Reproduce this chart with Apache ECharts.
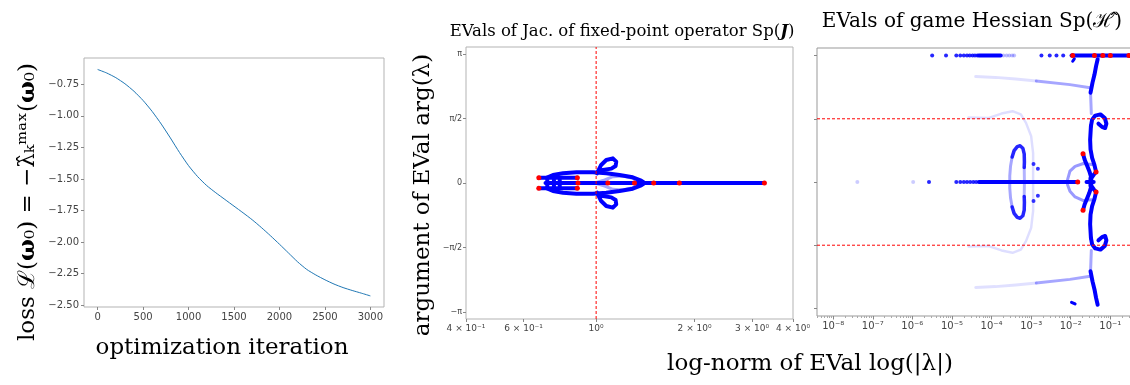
<!DOCTYPE html>
<html>
<head>
<meta charset="utf-8">
<script src="https://cdn.jsdelivr.net/npm/echarts@6/dist/echarts.min.js"></script>
<style>
html, body { margin: 0; padding: 0; background: #fff; }
#chart { width: 1130px; height: 385px; }
</style>
</head>
<body>
<div id="chart"></div>
<script>
// ---- left panel: loss during optimization ----
const lossIters = [0, 100, 200, 300, 400, 500, 600, 700, 800, 900, 1000, 1100, 1200, 1300, 1400, 1500, 1600, 1700, 1800, 1900, 2000, 2100, 2200, 2300, 2400, 2500, 2600, 2700, 2800, 2900, 3000];
const lossValues = [-0.632, -0.660, -0.697, -0.745, -0.805, -0.878, -0.965, -1.065, -1.175, -1.290, -1.395, -1.482, -1.553, -1.610, -1.663, -1.716, -1.769, -1.824, -1.885, -1.950, -2.018, -2.088, -2.158, -2.218, -2.262, -2.300, -2.334, -2.362, -2.385, -2.406, -2.428];
const lossXTicks = [0, 500, 1000, 1500, 2000, 2500, 3000];
const lossYTicks = [-2.5, -2.25, -2.0, -1.75, -1.5, -1.25, -1.0, -0.75];

// ---- middle panel: eigenvalues of the fixed-point Jacobian, [|lambda|, arg] ----
const jacXTicks = [0.4, 0.6, 1, 2, 3, 4];
const jacAxisLine = [[0.70, 0], [3.27, 0]];
const jacHTop = [[0.668, 0.13], [0.876, 0.13]];
const jacHBottom = [[0.668, -0.13], [0.876, -0.13]];
const jacHBar1 = [[0.709, 0.11], [0.709, -0.11]];
const jacHBar2 = [[0.743, 0.08], [0.743, -0.08]];
const jacHBar3 = [[0.774, 0.08], [0.774, -0.08]];
const jacLensTop = [[0.708, 0.13], [0.738, 0.195], [0.792, 0.236], [0.870, 0.262], [0.978, 0.262], [1.074, 0.236], [1.179, 0.195], [1.294, 0.138], [1.373, 0.057], [1.406, 0]];
const jacLensBottom = [[0.708, -0.13], [0.738, -0.195], [0.792, -0.236], [0.870, -0.262], [0.978, -0.262], [1.074, -0.236], [1.179, -0.195], [1.294, -0.138], [1.373, -0.057], [1.406, 0]];
const jacInnerTop = [[0.99, 0], [1.062, 0.073], [1.125, 0.155], [1.207, 0.171], [1.294, 0.114], [1.373, 0]];
const jacInnerBottom = [[0.99, 0], [1.062, -0.073], [1.125, -0.155], [1.207, -0.171], [1.294, -0.114], [1.373, 0]];
const jacLoopTop = [[1.006, 0.236], [1.036, 0.44], [1.074, 0.56], [1.125, 0.60], [1.152, 0.52], [1.147, 0.415], [1.113, 0.35], [1.049, 0.317], [1.020, 0.285]];
const jacLoopBottom = [[1.006, -0.236], [1.036, -0.44], [1.074, -0.56], [1.125, -0.60], [1.152, -0.52], [1.147, -0.415], [1.113, -0.35], [1.049, -0.317], [1.020, -0.285]];
const jacEnds = [[0.668, 0.13], [0.668, -0.13], [0.876, 0.13], [0.876, -0.13], [0.88, 0], [1.086, 0], [1.31, 0], [1.50, 0], [1.797, 0], [3.27, 0]];
const jacUnitNorm = 1;

// ---- right panel: eigenvalues of the game Hessian, [log10 |lambda|, arg] ----
const hessXTicks = [-8, -7, -6, -5, -4, -3, -2, -1];
const hessPiRowDots = [-5.50, -5.15, -4.89, -4.79, -4.70, -4.62, -4.55, -4.48, -4.42, -4.36, -2.74, -2.53, -2.36, -2.19];
const hessPiRowFaint = [-3.70, -3.62, -3.55, -3.48, -3.43];
const hessPiRowLine1 = [-4.32, -3.77];
const hessPiRowLine2 = [-1.98, -0.49];
const hessPiRowEnds = [-1.95, -1.40, -1.19, -1.00, -0.53];
const hessZeroDots = [-5.58, -4.89, -4.79, -4.70, -4.62, -4.54, -4.46, -4.39];
const hessZeroFaint = [-5.98, -7.39];
const hessZeroLine = [-4.32, -1.82];
const hessZeroEnd = -1.824;

const hessUpperT = [[-1.32, 3.05], [-1.36, 2.88], [-1.40, 2.67], [-1.45, 2.47], [-1.50, 2.22]];
const hessLowerT = [[-1.32, -3.05], [-1.36, -2.88], [-1.40, -2.67], [-1.45, -2.47], [-1.50, -2.22]];
const hessUpperTailNear = [[-1.51, 2.34], [-2.02, 2.42], [-2.87, 2.51]];
const hessUpperTailFar = [[-2.87, 2.51], [-3.39, 2.56], [-3.90, 2.60], [-4.40, 2.62]];
const hessLowerTailNear = [[-1.51, -2.34], [-2.02, -2.42], [-2.87, -2.51]];
const hessLowerTailFar = [[-2.87, -2.51], [-3.39, -2.56], [-3.90, -2.60], [-4.40, -2.62]];
const hessUpperLink = [[-1.50, 2.22], [-1.49, 1.97], [-1.48, 1.70]];
const hessLowerLink = [[-1.50, -2.22], [-1.49, -1.97], [-1.48, -1.70]];
const hessUpperCurl = [[-1.49, 1.39], [-1.46, 1.55], [-1.38, 1.65], [-1.25, 1.68], [-1.14, 1.59], [-1.10, 1.45], [-1.13, 1.34], [-1.21, 1.37], [-1.30, 1.45]];
const hessLowerCurl = [[-1.49, -1.39], [-1.46, -1.55], [-1.38, -1.65], [-1.25, -1.68], [-1.14, -1.59], [-1.10, -1.45], [-1.13, -1.34], [-1.21, -1.37], [-1.30, -1.45]];
const hessUpperStem = [[-1.49, 1.39], [-1.51, 1.05], [-1.50, 0.81], [-1.46, 0.60], [-1.40, 0.42], [-1.36, 0.25]];
const hessLowerStem = [[-1.49, -1.39], [-1.51, -1.05], [-1.50, -0.81], [-1.46, -0.60], [-1.40, -0.42], [-1.36, -0.25]];
const hessUpperInner = [[-1.69, 0.70], [-1.65, 0.56], [-1.58, 0.39], [-1.53, 0.27], [-1.49, 0.14], [-1.49, 0]];
const hessLowerInner = [[-1.69, -0.70], [-1.65, -0.56], [-1.58, -0.39], [-1.53, -0.27], [-1.49, -0.14], [-1.49, 0]];
const hessUpperHook = [[-1.36, 0.25], [-1.42, 0.18], [-1.47, 0.11], [-1.49, 0.04]];
const hessLowerHook = [[-1.36, -0.25], [-1.42, -0.18], [-1.47, -0.11], [-1.49, -0.04]];
const hessCrossH = [[-1.60, 0], [-1.42, 0]];
const hessCrossV = [[-1.50, 0.10], [-1.50, -0.10]];
const hessArcC = [[-1.42, 0.43], [-1.68, 0.46], [-1.89, 0.39], [-2.02, 0.27], [-2.08, 0.06], [-2.08, -0.07], [-2.02, -0.23], [-1.89, -0.37], [-1.68, -0.46], [-1.47, -0.44]];
const hessEllipseTop = [[-3.48, 0.62], [-3.43, 0.78], [-3.35, 0.88], [-3.28, 0.90], [-3.21, 0.84], [-3.175, 0.70], [-3.17, 0.50], [-3.175, 0.36]];
const hessEllipseBottom = [[-3.48, -0.62], [-3.43, -0.78], [-3.35, -0.88], [-3.28, -0.90], [-3.21, -0.84], [-3.175, -0.70], [-3.17, -0.50], [-3.175, -0.36]];
const hessEllipseLeft = [[-3.48, 0.62], [-3.52, 0.40], [-3.54, 0.15], [-3.54, -0.15], [-3.52, -0.40], [-3.48, -0.62]];
const hessEllipseRight = [[-3.175, 0.36], [-3.17, 0], [-3.175, -0.36]];
const hessOuterArc = [[-4.58, 1.60], [-4.07, 1.59], [-3.75, 1.70], [-3.47, 1.76], [-3.26, 1.68], [-3.13, 1.47], [-3.00, 1.14], [-2.95, 0.72], [-2.95, -0.72], [-3.00, -1.14], [-3.13, -1.47], [-3.26, -1.68], [-3.47, -1.76], [-3.75, -1.70], [-4.07, -1.59], [-4.58, -1.60]];
const hessSmallDots = [[-2.94, 0.45], [-2.83, 0.33], [-2.83, -0.34], [-2.94, -0.47]];
const hessUpperDash = [[-1.95, 3.00], [-1.91, 3.06]];
const hessLowerDash = [[-1.98, -2.99], [-1.89, -3.03]];
const hessInnerEnds = [[-1.36, 0.25], [-1.36, -0.25], [-1.69, 0.70], [-1.69, -0.70]];
const hessGuideAngles = [Math.PI / 2, -Math.PI / 2];

const PI = Math.PI;
const BLUE = '#0000ff';
const RED = '#ff0000';
const SUP = { '0': '⁰', '1': '¹', '2': '²', '3': '³', '4': '⁴', '5': '⁵', '6': '⁶', '7': '⁷', '8': '⁸', '9': '⁹', '-': '⁻' };
const sup = s => String(s).split('').map(c => SUP[c]).join('');

// axis ranges
const jacXRange = [0.4, 4];
const hessXRange = [3.9e-9, 0.42];

// minor log ticks for the right panel (2..9 x 10^k)
const hessMinorTicks = [];
for (let e = -9; e <= -1; e++) {
  for (let m = 2; m <= 9; m++) {
    const v = m * Math.pow(10, e);
    if (v > hessXRange[0] && v < hessXRange[1]) hessMinorTicks.push(v);
  }
}

// helpers for the trajectory plots
function path(data, ax, opacity, width) {
  return {
    type: 'line', xAxisIndex: ax, yAxisIndex: ax, data: data, symbol: 'none', silent: true, z: 2,
    lineStyle: { color: BLUE, width: width || 4, opacity: opacity == null ? 1 : opacity, cap: 'round', join: 'round' }
  };
}
function dots(data, ax, color, opacity, size, z) {
  return {
    type: 'scatter', xAxisIndex: ax, yAxisIndex: ax, data: data, symbolSize: size || 4, silent: true, z: z || 3,
    itemStyle: { color: color, opacity: opacity == null ? 1 : opacity }
  };
}
function guide(data, ax) {
  return {
    type: 'line', xAxisIndex: ax, yAxisIndex: ax, data: data, symbol: 'none', silent: true, z: 4,
    lineStyle: { color: RED, width: 1, type: [3, 2] }
  };
}
const exp10 = pts => pts.map(p => [Math.pow(10, p[0]), p[1]]);
const row = (list, angle) => list.map(e => [Math.pow(10, e), angle]);

const piTicks = [-PI, -PI / 2, 0, PI / 2, PI];
const piLabel = v => {
  if (Math.abs(v) < 1e-9) return '0';
  if (Math.abs(v - PI) < 1e-6) return 'π';
  if (Math.abs(v + PI) < 1e-6) return '−π';
  return v > 0 ? 'π/2' : '−π/2';
};

const frame = '#b3b3b3';
const tickLabel = { fontFamily: 'DejaVu Sans', color: '#444' };
const noLine = { show: false, onZero: false };

const series = [
  // left
  {
    type: 'line', xAxisIndex: 0, yAxisIndex: 0, smooth: 0.2, symbol: 'none',
    data: lossIters.map((x, i) => [x, lossValues[i]]),
    lineStyle: { color: '#1f77b4', width: 1 }
  },
  // middle
  path(jacAxisLine, 1),
  path(jacHTop, 1), path(jacHBottom, 1),
  path(jacHBar1, 1), path(jacHBar2, 1), path(jacHBar3, 1),
  path(jacLensTop, 1), path(jacLensBottom, 1),
  path(jacInnerTop, 1, 0.35, 3), path(jacInnerBottom, 1, 0.35, 3),
  path(jacLoopTop, 1), path(jacLoopBottom, 1),
  dots(jacEnds, 1, RED, 1, 5, 5),
  guide([[jacUnitNorm, -1.055 * PI], [jacUnitNorm, 1.055 * PI]], 1),
  // right
  path(exp10(hessOuterArc), 2, 0.13, 2.5),
  path(exp10(hessUpperTailFar), 2, 0.12, 3), path(exp10(hessLowerTailFar), 2, 0.12, 3),
  path(exp10(hessUpperTailNear), 2, 0.35, 3), path(exp10(hessLowerTailNear), 2, 0.35, 3),
  path(exp10(hessUpperLink), 2, 0.35, 3), path(exp10(hessLowerLink), 2, 0.35, 3),
  path(exp10(hessArcC), 2, 0.4, 3),
  path(exp10(hessEllipseLeft), 2, 0.35, 3), path(exp10(hessEllipseRight), 2, 0.3, 3),
  path(exp10(hessEllipseTop), 2, 0.85, 3.5), path(exp10(hessEllipseBottom), 2, 0.85, 3.5),
  path(row(hessZeroLine, 0), 2),
  path(row(hessPiRowLine1, PI), 2), path(row(hessPiRowLine2, PI), 2),
  path(exp10(hessUpperT), 2), path(exp10(hessLowerT), 2),
  path(exp10(hessUpperCurl), 2), path(exp10(hessLowerCurl), 2),
  path(exp10(hessUpperStem), 2), path(exp10(hessLowerStem), 2),
  path(exp10(hessUpperInner), 2), path(exp10(hessLowerInner), 2),
  path(exp10(hessUpperHook), 2), path(exp10(hessLowerHook), 2),
  path(exp10(hessCrossH), 2), path(exp10(hessCrossV), 2),
  path(exp10(hessUpperDash), 2, 1, 3), path(exp10(hessLowerDash), 2, 1, 3),
  dots(row(hessPiRowDots, PI), 2, BLUE, 0.85, 4),
  dots(row(hessPiRowFaint, PI), 2, BLUE, 0.25, 4),
  dots(row(hessZeroDots, 0), 2, BLUE, 0.85, 4),
  dots(row(hessZeroFaint, 0), 2, BLUE, 0.2, 4),
  dots(exp10(hessSmallDots), 2, BLUE, 0.8, 4),
  dots(row(hessPiRowEnds, PI), 2, RED, 1, 5, 5),
  dots(exp10(hessInnerEnds).concat(row([hessZeroEnd], 0)), 2, RED, 1, 5, 5)
].concat(hessGuideAngles.map(a => guide([[hessXRange[0], a], [hessXRange[1], a]], 2)));

const option = {
  animation: false,
  backgroundColor: '#fff',
  grid: [
    { left: 84, top: 58, width: 300, height: 249, show: true, borderColor: frame, borderWidth: 1, outerBoundsMode: 'none' },
    { left: 466, top: 47, width: 327, height: 272, show: true, borderColor: frame, borderWidth: 1, outerBoundsMode: 'none' },
    { left: 817, top: 48, width: 318, height: 268, show: true, borderColor: '#999', borderWidth: 1, outerBoundsMode: 'none' }
  ],
  xAxis: [
    {
      type: 'value', gridIndex: 0, position: 'bottom', min: -150, max: 3150,
      axisLine: noLine, splitLine: { show: false },
      axisTick: { customValues: lossXTicks, length: 3, lineStyle: { color: '#888' } },
      axisLabel: Object.assign({ customValues: lossXTicks, fontSize: 10, margin: 5, formatter: v => String(v) }, tickLabel)
    },
    {
      type: 'log', gridIndex: 1, position: 'bottom', min: jacXRange[0], max: jacXRange[1],
      axisLine: noLine, splitLine: { show: false },
      axisTick: { customValues: jacXTicks, length: 3, lineStyle: { color: '#888' } },
      axisLabel: Object.assign({
        customValues: jacXTicks, fontSize: 9, margin: 5,
        formatter: v => {
          const e = Math.floor(Math.log10(v) + 1e-9);
          const m = Math.round(v / Math.pow(10, e));
          return (m === 1 ? '' : m + ' × ') + '10' + sup(e);
        }
      }, tickLabel)
    },
    {
      type: 'log', gridIndex: 2, position: 'bottom', min: hessXRange[0], max: hessXRange[1],
      axisLine: noLine, splitLine: { show: false },
      axisTick: { customValues: hessXTicks.map(e => Math.pow(10, e)), length: 3.5, lineStyle: { color: '#888' } },
      axisLabel: Object.assign({
        customValues: hessXTicks.map(e => Math.pow(10, e)), fontSize: 10, margin: 5,
        formatter: v => '10' + sup(Math.round(Math.log10(v)))
      }, tickLabel)
    },
    {
      // minor ticks only
      type: 'log', gridIndex: 2, position: 'bottom', offset: 0, min: hessXRange[0], max: hessXRange[1],
      axisLine: noLine, splitLine: { show: false },
      axisTick: { customValues: hessMinorTicks, length: 2, lineStyle: { color: '#aaa' } },
      axisLabel: { show: false }
    }
  ],
  yAxis: [
    {
      type: 'value', gridIndex: 0, min: -2.516, max: -0.541,
      axisLine: noLine, splitLine: { show: false },
      axisTick: { show: true, customValues: lossYTicks, length: 3, lineStyle: { color: '#888' } },
      axisLabel: Object.assign({
        customValues: lossYTicks, fontSize: 10, margin: 5,
        formatter: v => (v < 0 ? '−' : '') + Math.abs(v).toFixed(2)
      }, tickLabel)
    },
    {
      type: 'value', gridIndex: 1, min: -1.055 * PI, max: 1.055 * PI,
      axisLine: noLine, splitLine: { show: false },
      axisTick: { show: true, customValues: piTicks, length: 3, lineStyle: { color: '#888' } },
      axisLabel: Object.assign({ customValues: piTicks, fontSize: 8, margin: 4, formatter: piLabel }, tickLabel)
    },
    {
      type: 'value', gridIndex: 2, min: -1.06 * PI, max: 1.06 * PI,
      axisLine: noLine, splitLine: { show: false },
      axisTick: { show: true, customValues: piTicks, length: 3, lineStyle: { color: '#888' } },
      axisLabel: { show: false }
    }
  ],
  series: series,
  graphic: [
    {
      type: 'text', x: 28, y: 202, rotation: PI / 2,
      style: {
        text: 'loss ℒ({b|ω}₀) = −λ̂ₖᵐᵃˣ({b|ω}₀)',
        fontFamily: 'DejaVu Serif', fontSize: 23, fill: '#000',
        align: 'center', verticalAlign: 'middle', textAlign: 'center', textVerticalAlign: 'middle',
        rich: { b: { fontFamily: 'DejaVu Serif', fontSize: 23, fontWeight: 'bold' } }
      }
    },
    {
      type: 'text', x: 222, y: 348,
      style: {
        text: 'optimization iteration', fontFamily: 'DejaVu Serif', fontSize: 23, fill: '#000',
        align: 'center', verticalAlign: 'middle', textAlign: 'center', textVerticalAlign: 'middle'
      }
    },
    {
      type: 'text', x: 423, y: 195, rotation: PI / 2,
      style: {
        text: 'argument of EVal arg(λ)', fontFamily: 'DejaVu Serif', fontSize: 23, fill: '#000',
        align: 'center', verticalAlign: 'middle', textAlign: 'center', textVerticalAlign: 'middle'
      }
    },
    {
      type: 'text', x: 810, y: 364,
      style: {
        text: 'log-norm of EVal log(|λ|)', fontFamily: 'DejaVu Serif', fontSize: 23, fill: '#000',
        align: 'center', verticalAlign: 'middle', textAlign: 'center', textVerticalAlign: 'middle'
      }
    },
    {
      type: 'text', x: 622, y: 32,
      style: {
        text: 'EVals of Jac. of fixed-point operator Sp({bi|J})', fontFamily: 'DejaVu Serif', fontSize: 16.5, fill: '#000',
        align: 'center', verticalAlign: 'middle', textAlign: 'center', textVerticalAlign: 'middle',
        rich: { bi: { fontFamily: 'DejaVu Serif', fontSize: 16.5, fontWeight: 'bold', fontStyle: 'italic' } }
      }
    },
    {
      type: 'text', x: 972, y: 22,
      style: {
        text: 'EVals of game Hessian Sp(ℋ̂)', fontFamily: 'DejaVu Serif', fontSize: 20, fill: '#000',
        align: 'center', verticalAlign: 'middle', textAlign: 'center', textVerticalAlign: 'middle'
      }
    }
  ]
};

const myChart = echarts.init(document.getElementById('chart'));
myChart.setOption(option);
window.addEventListener('resize', function () {
  myChart.resize();
});
</script>
</body>
</html>
